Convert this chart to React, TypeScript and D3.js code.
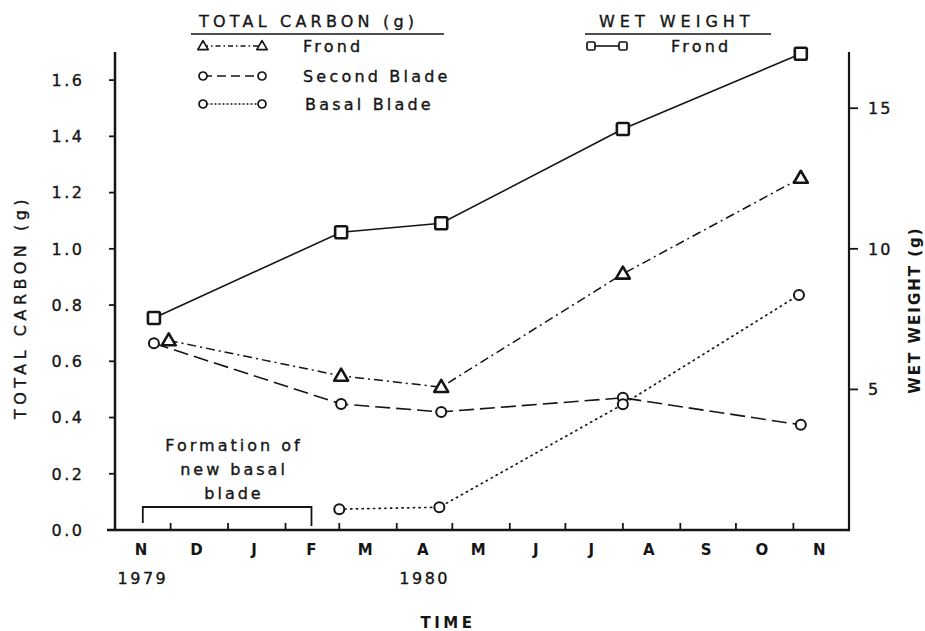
import React, { useEffect, useRef } from "react";
import * as d3 from "d3";

const width = 925,
  height = 631;

// sampling dates
const sampleDates = ["1979-11-22", "1980-03-02", "1980-04-25", "1980-08-01", "1980-11-05"];
const frondDates = ["1979-11-30", "1980-03-02", "1980-04-25", "1980-08-01", "1980-11-05"];
const basalDates = ["1980-03-01", "1980-04-24", "1980-08-01", "1980-11-04"];

// total carbon (g)
const frondCarbon = [0.674, 0.548, 0.508, 0.911, 1.252];
const secondBladeCarbon = [0.664, 0.448, 0.42, 0.47, 0.374];
const basalBladeCarbon = [0.074, 0.081, 0.447, 0.836];

// wet weight (g)
const frondWetWeight = [7.54, 10.59, 10.91, 14.26, 16.94];

const carbonTicks = [0, 0.2, 0.4, 0.6, 0.8, 1.0, 1.2, 1.4, 1.6];
const weightTicks = [5, 10, 15];
const monthLabels = ["N", "D", "J", "F", "M", "A", "M", "J", "J", "A", "S", "O", "N"];
const yearLabels = [
  { date: "1979-11-15", text: "1979" },
  { date: "1980-04-15", text: "1980" },
];

const parse = d3.timeParse("%Y-%m-%d");
const FONT = "'DejaVu Sans', sans-serif";
const INK = "#151515";

export default function App() {
  const ref = useRef(null);

  useEffect(() => {
    const svg = d3.select(ref.current);
    svg.selectAll("*").remove();

    const left = 115,
      right = 849,
      bottom = 530,
      top = 52;

    const x = d3
      .scaleTime()
      .domain([parse("1979-11-01"), parse("1980-12-01")])
      .range([left, right]);
    const yC = d3.scaleLinear().domain([0, 1.7]).range([bottom, top]);
    const yW = d3.scaleLinear().domain([0, 17]).range([bottom, top]);

    const g = svg.append("g").attr("font-family", FONT).attr("fill", INK);

    // axes frame
    g.append("line").attr("x1", left).attr("x2", left).attr("y1", top).attr("y2", bottom)
      .attr("stroke", INK).attr("stroke-width", 2.5);
    g.append("line").attr("x1", right).attr("x2", right).attr("y1", top).attr("y2", bottom)
      .attr("stroke", INK).attr("stroke-width", 2.2);
    g.append("line").attr("x1", left - 8).attr("x2", right + 1).attr("y1", bottom).attr("y2", bottom)
      .attr("stroke", INK).attr("stroke-width", 2.5);

    // text with a slightly heavier stroke, like the hand lettering
    const inked = sel => sel.attr("stroke", INK).attr("stroke-width", 0.35);

    // left ticks
    g.append("g")
      .selectAll("line")
      .data(carbonTicks)
      .join("line")
      .attr("x1", left - 6)
      .attr("x2", left)
      .attr("y1", d => yC(d))
      .attr("y2", d => yC(d))
      .attr("stroke", INK)
      .attr("stroke-width", 1.8);
    g.append("g")
      .attr("font-size", 16)
      .attr("letter-spacing", 2.5)
      .attr("text-anchor", "middle")
      .call(inked)
      .selectAll("text")
      .data(carbonTicks)
      .join("text")
      .attr("x", 68)
      .attr("y", d => yC(d))
      .attr("dy", "0.36em")
      .text(d => d3.format(".1f")(d));

    // right ticks
    g.append("g")
      .selectAll("line")
      .data(weightTicks)
      .join("line")
      .attr("x1", right)
      .attr("x2", right + 9)
      .attr("y1", d => yW(d))
      .attr("y2", d => yW(d))
      .attr("stroke", INK)
      .attr("stroke-width", 1.8);
    g.append("g")
      .attr("font-size", 16)
      .attr("letter-spacing", 2)
      .call(inked)
      .selectAll("text")
      .data(weightTicks)
      .join("text")
      .attr("x", right + 19)
      .attr("y", d => yW(d))
      .attr("dy", "0.36em")
      .text(d => d);

    // month ticks (pointing inward)
    const months = d3.timeMonth.range(parse("1979-12-01"), parse("1980-12-01"));
    g.append("g")
      .selectAll("line")
      .data(months)
      .join("line")
      .attr("x1", d => x(d))
      .attr("x2", d => x(d))
      .attr("y1", bottom)
      .attr("y2", bottom - 7)
      .attr("stroke", INK)
      .attr("stroke-width", 1.8);

    const monthMids = d3.timeMonth
      .range(parse("1979-11-01"), parse("1980-12-01"))
      .map(d => new Date(d.getFullYear(), d.getMonth(), 15));
    g.append("g")
      .attr("font-size", 15)
      .attr("font-weight", "bold")
      .attr("text-anchor", "middle")
      .selectAll("text")
      .data(monthLabels)
      .join("text")
      .attr("x", (d, i) => x(monthMids[i]))
      .attr("y", 555)
      .text(d => d);

    g.append("g")
      .attr("font-size", 16)
      .attr("letter-spacing", 2.5)
      .attr("text-anchor", "middle")
      .call(inked)
      .selectAll("text")
      .data(yearLabels)
      .join("text")
      .attr("x", d => x(parse(d.date)) + 2)
      .attr("y", 584)
      .text(d => d.text);

    g.append("text")
      .attr("x", 448)
      .attr("y", 628)
      .attr("font-size", 15)
      .attr("font-weight", "bold")
      .attr("letter-spacing", 3.5)
      .attr("text-anchor", "middle")
      .text("TIME");

    // axis titles
    g.append("text")
      .attr("transform", "translate(26,307) rotate(-90)")
      .attr("font-size", 16)
      .attr("letter-spacing", 4.5)
      .attr("text-anchor", "middle")
      .call(inked)
      .text("TOTAL CARBON (g)");
    g.append("text")
      .attr("transform", "translate(920,310) rotate(-90)")
      .attr("font-size", 15)
      .attr("font-weight", "bold")
      .attr("letter-spacing", 2)
      .attr("text-anchor", "middle")
      .text("WET WEIGHT (g)");

    // series
    const series = [
      { dates: sampleDates, values: frondWetWeight, y: yW, dash: null, width: 1.6, marker: "square" },
      { dates: frondDates, values: frondCarbon, y: yC, dash: "9,4,2,4", width: 1.5, marker: "triangle" },
      { dates: sampleDates, values: secondBladeCarbon, y: yC, dash: "15,6", width: 1.6, marker: "circle" },
      { dates: basalDates, values: basalBladeCarbon, y: yC, dash: "1.2,4.5", width: 1.7, marker: "circle" },
    ];

    const drawMarker = (sel, type, size) => {
      if (type === "square") {
        sel.append("rect").attr("x", -size / 2).attr("y", -size / 2).attr("width", size).attr("height", size)
          .attr("rx", 1.5).attr("fill", "white").attr("stroke", INK).attr("stroke-width", 2.6);
      } else if (type === "triangle") {
        const s = size;
        sel.append("path")
          .attr("d", `M0,${-s * 0.6}L${s * 0.58},${s * 0.4}L${-s * 0.58},${s * 0.4}Z`)
          .attr("fill", "white").attr("stroke", INK).attr("stroke-width", 2.6).attr("stroke-linejoin", "round");
      } else {
        sel.append("circle").attr("r", size / 2).attr("fill", "white").attr("stroke", INK).attr("stroke-width", 2);
      }
    };

    series.forEach(s => {
      const pts = s.values.map((v, i) => [x(parse(s.dates[i])), s.y(v)]);
      g.append("path")
        .attr("d", d3.line()(pts))
        .attr("fill", "none")
        .attr("stroke", INK)
        .attr("stroke-width", s.width)
        .attr("stroke-linecap", s.dash && s.dash.startsWith("1.2") ? "round" : "butt")
        .attr("stroke-dasharray", s.dash);
    });
    series.forEach(s => {
      const pts = s.values.map((v, i) => [x(parse(s.dates[i])), s.y(v)]);
      pts.forEach(p => {
        const m = g.append("g").attr("transform", `translate(${p[0]},${p[1]})`);
        drawMarker(m, s.marker, s.marker === "circle" ? 10 : 12);
      });
    });

    // bracket: formation of new basal blade
    g.append("path")
      .attr("d", `M${x(parse("1979-11-16"))},${bottom - 7}V${bottom - 23}H${x(parse("1980-02-15"))}V${bottom - 4}`)
      .attr("fill", "none")
      .attr("stroke", INK)
      .attr("stroke-width", 1.8);
    const note = g.append("g").attr("font-size", 16).attr("letter-spacing", 3).attr("text-anchor", "middle").call(inked);
    ["Formation of", "new basal", "blade"].forEach((t, i) => {
      note.append("text").attr("x", 234).attr("y", 451 + i * 24).text(t);
    });

    // legend: total carbon
    const lg = g.append("g").attr("font-size", 16).attr("letter-spacing", 4.2).call(inked);
    lg.append("text").attr("x", 199).attr("y", 27).text("TOTAL CARBON (g)");
    lg.append("line").attr("x1", 191).attr("x2", 444).attr("y1", 34).attr("y2", 34)
      .attr("stroke", INK).attr("stroke-width", 1.6);
    lg.append("text").attr("x", 303).attr("y", 52).attr("letter-spacing", 3.2).text("Frond");
    lg.append("text").attr("x", 303).attr("y", 82).attr("letter-spacing", 3.2).text("Second Blade");
    lg.append("text").attr("x", 305).attr("y", 110).attr("letter-spacing", 3.2).text("Basal Blade");

    const legendRows = [
      { y: 46, dash: "5,3,1.5,3", marker: "triangle", size: 9 },
      { y: 76, dash: "9,5", marker: "circle", size: 8 },
      { y: 104, dash: "1,3", marker: "circle", size: 8 },
    ];
    legendRows.forEach(r => {
      lg.append("line").attr("x1", 203).attr("x2", 262).attr("y1", r.y).attr("y2", r.y)
        .attr("stroke", INK).attr("stroke-width", 1.4).attr("stroke-dasharray", r.dash)
        .attr("stroke-linecap", r.dash === "1,3" ? "round" : "butt");
      [203, 262].forEach(px => {
        const m = lg.append("g").attr("transform", `translate(${px},${r.y})`);
        drawMarker(m, r.marker, r.size);
        m.selectAll("*").attr("stroke-width", 1.7);
      });
    });

    // legend: wet weight
    lg.append("text").attr("x", 599).attr("y", 27).attr("letter-spacing", 5).text("WET WEIGHT");
    lg.append("line").attr("x1", 585).attr("x2", 771).attr("y1", 34).attr("y2", 34)
      .attr("stroke", INK).attr("stroke-width", 1.6);
    lg.append("line").attr("x1", 591).attr("x2", 623).attr("y1", 46).attr("y2", 46)
      .attr("stroke", INK).attr("stroke-width", 1.6);
    [591, 623].forEach(px => {
      const m = lg.append("g").attr("transform", `translate(${px},46)`);
      drawMarker(m, "square", 8);
      m.selectAll("*").attr("stroke-width", 1.7);
    });
    lg.append("text").attr("x", 671).attr("y", 52).attr("letter-spacing", 3.2).text("Frond");
  }, []);

  return (
    <svg
      ref={ref}
      width={width}
      height={height}
      style={{ position: "absolute", left: 0, top: 0, background: "white" }}
    />
  );
}
